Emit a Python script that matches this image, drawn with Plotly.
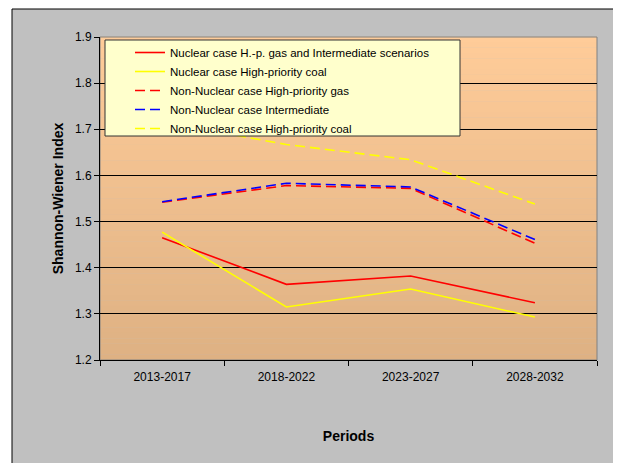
import plotly.graph_objects as go

periods = ["2013-2017", "2018-2022", "2023-2027", "2028-2032"]
nuc_gas_int = [1.465, 1.364, 1.382, 1.324]
nuc_coal = [1.477, 1.315, 1.354, 1.293]
nonnuc_gas = [1.542, 1.578, 1.572, 1.453]
nonnuc_int = [1.543, 1.583, 1.575, 1.461]
nonnuc_coal = [1.716, 1.667, 1.634, 1.538]
y_ticks = [1.2, 1.3, 1.4, 1.5, 1.6, 1.7, 1.8, 1.9]

OFF = 8  # default page body margin
W, H = 621 - OFF, 463 - OFF
L, T = 100 - OFF, 37 - OFF
R = W - (597 - OFF)
B = H - (360 - OFF)
pw, ph = W - L - R, H - T - B


def px_x(p):
    return (p - OFF - L) / pw


def px_y(p):
    return 1 - (p - OFF - T) / ph


fig = go.Figure()
series = [
    ("Nuclear case H.-p. gas and Intermediate scenarios", nuc_gas_int, "#FF0000", "solid"),
    ("Nuclear case High-priority coal", nuc_coal, "#FFFF00", "solid"),
    ("Non-Nuclear case High-priority gas", nonnuc_gas, "#FF0000", "10px,5px"),
    ("Non-Nuclear case Intermediate", nonnuc_int, "#0000FF", "10px,5px"),
    ("Non-Nuclear case High-priority coal", nonnuc_coal, "#FFFF00", "10px,5px"),
]
for name, vals, col, dash in series:
    fig.add_trace(go.Scatter(x=periods, y=vals, mode="lines", name=name,
                             line=dict(color=col, width=1.6, dash=dash)))

shapes = []
# outer gray chart area
shapes.append(dict(type="rect", xref="paper", yref="paper", layer="below",
                   x0=px_x(12), x1=px_x(616), y0=px_y(480), y1=px_y(9),
                   fillcolor="#C0C0C0", line=dict(color="#000000", width=1)))
# gradient plot background
n = 60
top = (255, 204, 153)
bot = (222, 177, 131)
for i in range(n):
    f = (i + 0.5) / n
    c = tuple(round(top[k] + (bot[k] - top[k]) * f) for k in range(3))
    shapes.append(dict(type="rect", xref="paper", yref="paper", layer="below",
                       x0=0, x1=1, y0=1 - (i + 1) / n, y1=1 - i / n + 0.001,
                       fillcolor="rgb(%d,%d,%d)" % c, line=dict(width=0)))
shapes.append(dict(type="rect", xref="paper", yref="paper", layer="below",
                   x0=0, x1=1, y0=0, y1=1, line=dict(color="#808080", width=1)))
# legend box
shapes.append(dict(type="rect", xref="paper", yref="paper", layer="above",
                   x0=px_x(105), x1=px_x(460), y0=px_y(136), y1=px_y(40),
                   fillcolor="#FFFFCC", line=dict(color="#333333", width=1)))

fig.update_layout(
    width=W, height=H,
    margin=dict(l=L, r=R, t=T, b=B),
    paper_bgcolor="#FFFFFF",
    plot_bgcolor="rgba(0,0,0,0)",
    font=dict(family="Liberation Sans, Arial, sans-serif", size=12, color="#000000"),
    shapes=shapes,
    showlegend=True,
    legend=dict(x=px_x(130), y=px_y(38), xanchor="left", yanchor="top",
                bgcolor="rgba(0,0,0,0)", borderwidth=0,
                font=dict(size=11.5, family="Liberation Sans, Arial, sans-serif"),
                tracegroupgap=0, itemwidth=30),
    xaxis=dict(type="category", range=[-0.5, 3.5], showgrid=False,
               showline=True, linecolor="#000000", linewidth=1,
               ticks="outside", tickson="boundaries", ticklen=5, tickcolor="#000000",
               tickfont=dict(size=12), zeroline=False, ticklabelstandoff=6,
               title=dict(text="<b>Periods</b>", font=dict(size=14), standoff=47)),
    yaxis=dict(range=[1.2, 1.9], tickvals=y_ticks, ticktext=["%.1f" % v for v in y_ticks],
               showgrid=True, gridcolor="#000000", gridwidth=1,
               showline=True, linecolor="#000000", linewidth=1,
               ticks="outside", ticklen=5, tickcolor="#000000",
               tickfont=dict(size=12), zeroline=False,
               title=dict(text="<b>Shannon-Wiener Index</b>", font=dict(size=14), standoff=8)),
)

fig.write_html("out.html")
